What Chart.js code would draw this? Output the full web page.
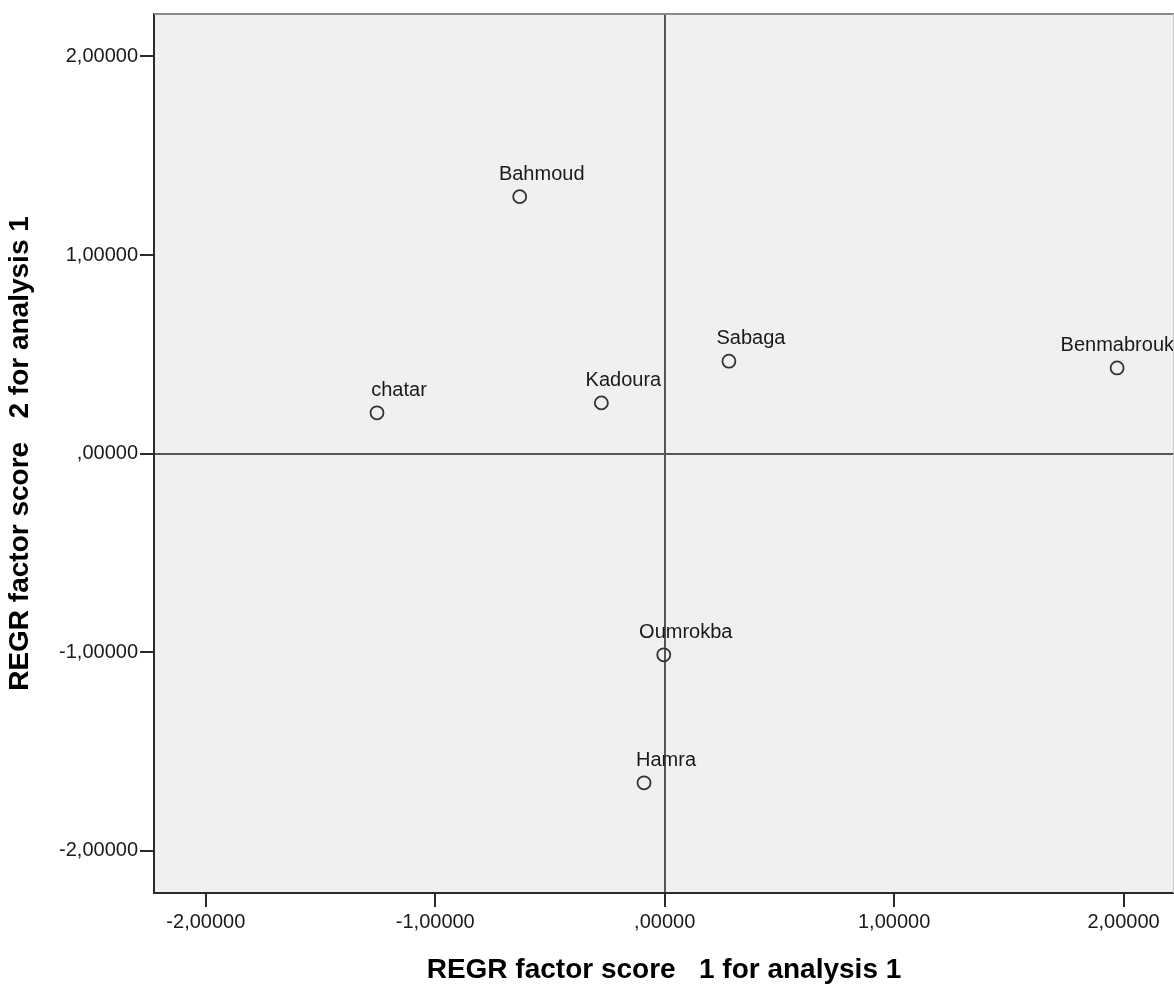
<!DOCTYPE html>
<html>
<head>
<meta charset="utf-8">
<title>REGR factor scores</title>
<script src="https://cdn.jsdelivr.net/npm/chart.js@4.4.1/dist/chart.umd.min.js"></script>
<style>
  html,body{margin:0;padding:0;background:#fff;overflow:hidden;}
  #chart{display:block;}
</style>
</head>
<body>
<canvas id="chart" width="1174" height="987"></canvas>
<script>
// Factor scores (factor 1 on x, factor 2 on y)
const SITES   = ['Bahmoud','Sabaga','Benmabrouk','Kadoura','chatar','Oumrokba','Hamra'];
const SCORE_1 = [-0.632, 0.280, 1.972, -0.276, -1.254, -0.004, -0.090];
const SCORE_2 = [ 1.294, 0.465, 0.431,  0.255,  0.205, -1.014, -1.659];

const X_TICKS = [-2, -1, 0, 1, 2];
const Y_TICKS = [-2, -1, 0, 1, 2];
const X_RANGE = [-2.226, 2.22];
const Y_RANGE = [-2.214, 2.214];

const FONT = '"Liberation Sans", Arial, sans-serif';

// SPSS style: comma decimal, no leading zero -> ",00000"
const fmt = v => v.toFixed(5).replace('.', ',').replace(/^(-?)0,/, '$1,');

// --- plot frame: grey panel, top/right edges ------------------------------
const framePlugin = {
  id:'frame',
  beforeDraw(chart){
    const {ctx, chartArea:a} = chart;
    ctx.save();
    ctx.fillStyle = '#f0f0f0';
    ctx.fillRect(a.left, a.top, a.right-a.left, a.bottom-a.top);
    ctx.restore();
  },
  afterDraw(chart){
    const {ctx, chartArea:a} = chart;
    ctx.save();
    ctx.strokeStyle = '#8a8a8a'; ctx.lineWidth = 2;
    ctx.beginPath(); ctx.moveTo(a.left, a.top); ctx.lineTo(a.right, a.top); ctx.stroke();
    ctx.strokeStyle = '#c8c8c8'; ctx.lineWidth = 1;
    ctx.beginPath(); ctx.moveTo(a.right-0.5, a.top); ctx.lineTo(a.right-0.5, a.bottom); ctx.stroke();
    ctx.restore();
  }
};

// --- point labels: centred a little right of the marker, kept inside the panel
const labelPlugin = {
  id:'pointLabels',
  afterDatasetsDraw(chart){
    const {ctx, chartArea:a} = chart;
    const meta = chart.getDatasetMeta(0);
    ctx.save();
    ctx.font = '20px ' + FONT;
    ctx.fillStyle = '#1a1a1a';
    ctx.textBaseline = 'alphabetic';
    ctx.textAlign = 'left';
    meta.data.forEach((pt, i) => {
      const txt = SITES[i];
      const w = ctx.measureText(txt).width;
      let x = pt.x + 22 - w/2;
      if(x + w > a.right) x = a.right - w;
      ctx.fillText(txt, x, pt.y - 17);
    });
    ctx.restore();
  }
};

const axisCommon = (ticks) => ({
  type:'linear',
  afterBuildTicks: s => { s.ticks = ticks.map(v => ({value:v})); },
  border:{display:true, color:'#2a2a2a', width:2},
  grid:{
    drawOnChartArea:true, drawTicks:true, tickLength:14, tickWidth:2, tickColor:'#2a2a2a',
    lineWidth:2,
    color: c => (c.tick && c.tick.value === 0) ? '#555555' : 'rgba(0,0,0,0)',
  },
});

new Chart(document.getElementById('chart'), {
  type:'scatter',
  data:{
    datasets:[{
      data: SITES.map((s,i) => ({x:SCORE_1[i], y:SCORE_2[i]})),
      pointStyle:'circle', pointRadius:6.5, pointHoverRadius:6.5,
      pointBorderWidth:1.8, borderColor:'#333', backgroundColor:'rgba(0,0,0,0)',
    }]
  },
  options:{
    responsive:false, animation:false, devicePixelRatio:1,
    layout:{autoPadding:false, padding:{top:12, right:0, bottom:0, left:0}},
    plugins:{legend:{display:false}, tooltip:{enabled:false}},
    scales:{
      x:{
        ...axisCommon(X_TICKS),
        min:X_RANGE[0], max:X_RANGE[1],
        afterFit: s => { s.height = 94; s.paddingRight = 0; s.paddingLeft = 0; },
        ticks:{color:'#1a1a1a', padding:3, maxRotation:0, autoSkip:false,
               font:{family:FONT, size:20}, callback:v => fmt(v)},
        title:{display:true, text:'REGR factor score   1 for analysis 1', color:'#000',
               font:{family:FONT, size:28, weight:'bold', lineHeight:1.2}, padding:{top:0, bottom:0}},
      },
      y:{
        ...axisCommon(Y_TICKS),
        min:Y_RANGE[0], max:Y_RANGE[1],
        afterFit: s => { s.width = 154; },
        ticks:{color:'#1a1a1a', padding:2, autoSkip:false,
               font:{family:FONT, size:20}, callback:v => fmt(v)},
        title:{display:true, text:'REGR factor score   2 for analysis 1', color:'#000',
               font:{family:FONT, size:28, weight:'bold', lineHeight:1.2}, padding:{top:3, bottom:0}},
      },
    },
  },
  plugins:[framePlugin, labelPlugin],
});
</script>
</body>
</html>
